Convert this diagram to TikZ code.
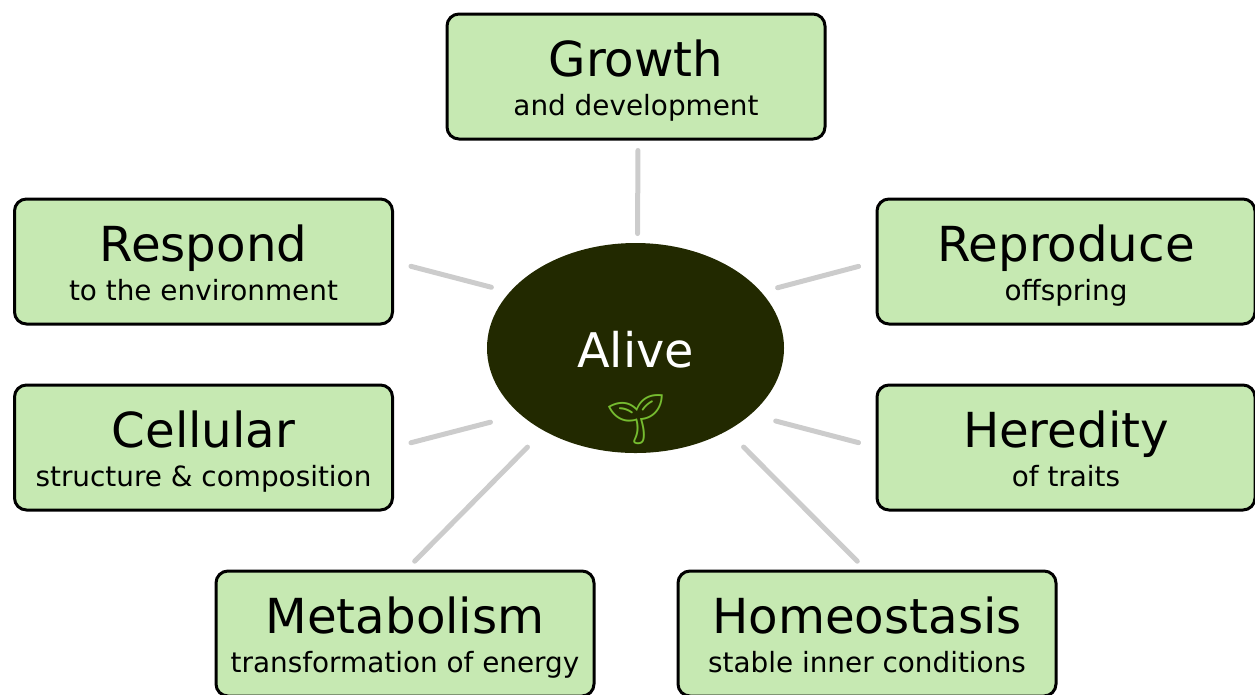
\documentclass[tikz,border=0pt]{standalone}
\usepackage{fontspec}
\setmainfont{DejaVu Sans}
\newfontfamily\emojifont{Noto Emoji}
\usetikzlibrary{shapes.geometric}
\definecolor{boxfill}{RGB}{198,233,178}
\definecolor{alivefill}{RGB}{34,41,0}
\definecolor{linkgray}{RGB}{204,204,204}
\definecolor{leafgreen}{RGB}{118,188,48}
\begin{document}
\begin{tikzpicture}[x=0.75pt, y=-0.75pt,
  box/.style={draw=black, line width=2.25pt, fill=boxfill, rounded corners=9pt,
    minimum width=283.5pt, minimum height=93.75pt, inner sep=0pt, outer sep=0pt,
    text height=15pt, text depth=15pt, font=\fontsize{36.2pt}{42pt}\selectfont},
  sub/.style={anchor=base, inner sep=0pt, font=\fontsize{20.9pt}{24pt}\selectfont},
  link/.style={draw=linkgray, line width=3.75pt, line cap=round},
  centre/.style={ellipse, fill=alivefill, minimum width=222.75pt, minimum height=157.5pt,
    inner sep=0pt, outer sep=0pt, text=white, text height=28.5pt, text depth=0pt,
    font=\fontsize{35.8pt}{42pt}\selectfont},
  sprout/.style={inner sep=0pt, text=leafgreen, font=\emojifont\fontsize{37pt}{37pt}\selectfont}
]
\useasboundingbox (0,0) rectangle (1255,694);

\node[centre] (alive) at (635.5,348) {Alive};
\node[sprout] (seedling) at (636,420) {🌱};

\node[box] (growth) at (636,76.5) {Growth};
\node[sub] (growthsub) at ([yshift=17.6pt]growth.south) {and development};

\node[box] (respond) at (203.5,261.5) {Respond};
\node[sub] (respondsub) at ([yshift=17.6pt]respond.south) {to the environment};

\node[box] (reproduce) at (1066,261.5) {Reproduce};
\node[sub] (reproducesub) at ([yshift=17.6pt]reproduce.south) {offspring};

\node[box] (cellular) at (203.5,447.5) {Cellular};
\node[sub] (cellularsub) at ([yshift=17.6pt]cellular.south) {structure \& composition};

\node[box] (heredity) at (1066,447.5) {Heredity};
\node[sub] (hereditysub) at ([yshift=17.6pt]heredity.south) {of traits};

\node[box] (metabolism) at (405,633.5) {Metabolism};
\node[sub] (metabolismsub) at ([yshift=17.6pt]metabolism.south) {transformation of energy};

\node[box] (homeostasis) at (867,633.5) {Homeostasis};
\node[sub] (homeostasissub) at ([yshift=17.6pt]homeostasis.south) {stable inner conditions};

\draw[link, shorten <=8.6pt, shorten >=7.1pt] ([xshift=1.5pt]growth.south) -- ([xshift=1.5pt]alive.north);
\draw[link, shorten <=14.3pt, shorten >=14.3pt] (respond.east) -- (alive.156);
\draw[link, shorten <=14.3pt, shorten >=12.75pt] (reproduce.west) -- (alive.24);
\draw[link, shorten <=14.3pt, shorten >=23.25pt] (cellular.east) -- (alive.210);
\draw[link, shorten <=14.3pt, shorten >=19.5pt] (heredity.west) -- (alive.330);
\draw[link, shorten <=10.35pt, shorten >=17.4pt] (metabolism.north) -- (alive.222);
\draw[link, shorten <=10.35pt, shorten >=17.4pt] (homeostasis.north) -- (alive.318);
\end{tikzpicture}
\end{document}
